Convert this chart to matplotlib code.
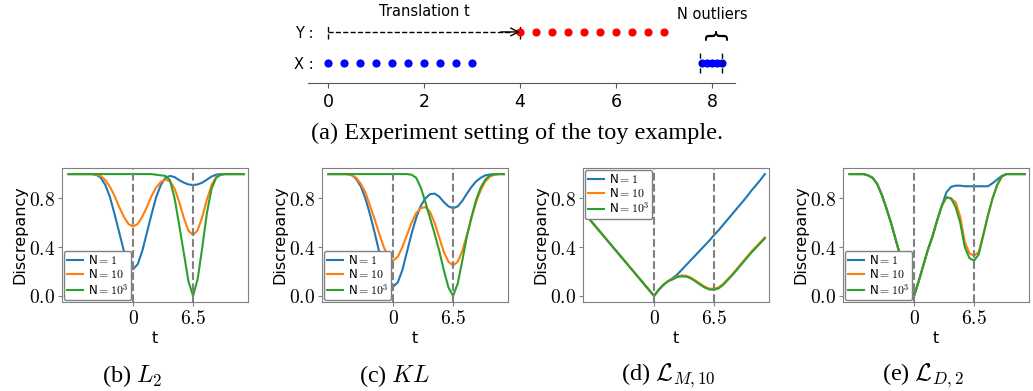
import numpy as np
import matplotlib.pyplot as plt

plt.rcParams['mathtext.fontset'] = 'cm'

# toy example points
x_points = [0, 1/3, 2/3, 1, 4/3, 5/3, 2, 7/3, 8/3, 3]
y_points = [4, 13/3, 14/3, 5, 16/3, 17/3, 6, 19/3, 20/3, 7]
outliers = [7.8, 7.9, 8.0, 8.1, 8.2]
top_ticks = [0, 2, 4, 6, 8]

# translation t (sampled every 0.5)
t = np.arange(-7, 12.01, 0.5)

l2_n1 = [1, 1, 1, 1, 1, 1, 0.995, 0.97, 0.91, 0.81, 0.67, 0.52, 0.37, 0.26, 0.22,
         0.26, 0.37, 0.52, 0.67, 0.81, 0.91, 0.97, 0.985, 0.975, 0.95, 0.93, 0.915,
         0.91, 0.915, 0.93, 0.955, 0.98, 0.995, 1, 1, 1, 1, 1, 1]
l2_n10 = [1, 1, 1, 1, 1, 1, 0.995, 0.985, 0.95, 0.895, 0.82, 0.73, 0.65, 0.59, 0.57,
          0.59, 0.65, 0.73, 0.82, 0.89, 0.935, 0.955, 0.94, 0.88, 0.77, 0.64, 0.535,
          0.50, 0.54, 0.65, 0.79, 0.91, 0.975, 0.995, 1, 1, 1, 1, 1]
l2_n1000 = [1, 1, 1, 1, 1, 1, 1, 1, 1, 1, 1, 1, 1, 1, 1, 1, 1, 1, 1,
            0.995, 0.99, 0.985, 0.95, 0.80, 0.58, 0.35, 0.12, 0.0, 0.14, 0.40,
            0.68, 0.88, 0.97, 0.995, 1, 1, 1, 1, 1]

kl_n1 = [1, 1, 1, 1, 1, 0.995, 0.96, 0.90, 0.80, 0.67, 0.52, 0.36, 0.21, 0.11, 0.075,
         0.11, 0.21, 0.36, 0.51, 0.64, 0.74, 0.80, 0.835, 0.84, 0.815, 0.77, 0.735,
         0.72, 0.735, 0.78, 0.84, 0.895, 0.94, 0.97, 0.99, 0.997, 1, 1, 1]
kl_n10 = [1, 1, 1, 1, 1, 0.99, 0.97, 0.92, 0.85, 0.74, 0.63, 0.51, 0.40, 0.32, 0.29,
          0.32, 0.40, 0.50, 0.60, 0.68, 0.72, 0.73, 0.69, 0.60, 0.48, 0.36, 0.28,
          0.25, 0.28, 0.37, 0.50, 0.64, 0.77, 0.87, 0.94, 0.98, 0.995, 1, 1]
kl_n1000 = [1, 1, 1, 1, 1, 1, 1, 1, 1, 1, 1, 1, 1, 1, 1, 1, 1, 1,
            0.995, 0.97, 0.89, 0.77, 0.64, 0.51, 0.37, 0.21, 0.07, 0.0, 0.10, 0.29,
            0.49, 0.65, 0.79, 0.89, 0.955, 0.99, 0.998, 1, 1]

lm_n1 = [0.63, 0.585, 0.54, 0.495, 0.45, 0.405, 0.36, 0.315, 0.27, 0.225, 0.18, 0.135,
         0.09, 0.045, 0.0, 0.05, 0.09, 0.12,
         0.145, 0.175, 0.215, 0.255, 0.295, 0.335, 0.375, 0.415, 0.455, 0.50, 0.54,
         0.585, 0.63, 0.675, 0.72, 0.765, 0.81, 0.86, 0.905, 0.95, 1.0]
lm_n10 = [0.63, 0.585, 0.54, 0.495, 0.45, 0.405, 0.36, 0.315, 0.27, 0.225, 0.18, 0.135,
          0.09, 0.045, 0.0, 0.05, 0.09, 0.12,
          0.14, 0.16, 0.168, 0.165, 0.15, 0.125, 0.10, 0.075, 0.06, 0.058, 0.07,
          0.10, 0.14, 0.18, 0.225, 0.27, 0.315, 0.36, 0.40, 0.44, 0.48]
lm_n1000 = [0.63, 0.585, 0.54, 0.495, 0.45, 0.405, 0.36, 0.315, 0.27, 0.225, 0.18, 0.135,
            0.09, 0.045, 0.0, 0.05, 0.09, 0.12,
            0.135, 0.155, 0.16, 0.158, 0.143, 0.118, 0.092, 0.068, 0.053, 0.05, 0.062,
            0.092, 0.132, 0.172, 0.217, 0.262, 0.307, 0.352, 0.392, 0.432, 0.472]

ld_n1 = [1, 1, 1, 1, 0.99, 0.97, 0.92, 0.83, 0.72, 0.60, 0.465, 0.33, 0.20, 0.09, 0.0,
         0.12, 0.25, 0.38, 0.49, 0.62, 0.74,
         0.85, 0.895, 0.905, 0.905, 0.90, 0.90, 0.90, 0.90, 0.90, 0.90, 0.925, 0.955,
         0.985, 1, 1, 1, 1, 1]
ld_n10 = [1, 1, 1, 1, 0.99, 0.97, 0.92, 0.83, 0.72, 0.60, 0.465, 0.33, 0.20, 0.09, 0.0,
          0.12, 0.25, 0.38, 0.49, 0.62, 0.74,
          0.81, 0.80, 0.77, 0.65, 0.44, 0.35, 0.33, 0.36, 0.50, 0.66, 0.80, 0.91,
          0.98, 1, 1, 1, 1, 1]
ld_n1000 = [1, 1, 1, 1, 0.99, 0.97, 0.92, 0.83, 0.72, 0.60, 0.465, 0.33, 0.20, 0.09, 0.0,
            0.12, 0.25, 0.38, 0.49, 0.62, 0.74,
            0.81, 0.80, 0.73, 0.60, 0.40, 0.31, 0.29, 0.34, 0.50, 0.66, 0.80, 0.91,
            0.98, 1, 1, 1, 1, 1]

labels = ['N$=1$', 'N$=10$', 'N$=10^3$']
captions = ['(b) $L_2$', '(c) $KL$', r'(d) $\mathcal{L}_{M,10}$', r'(e) $\mathcal{L}_{D,2}$']
panels = [(l2_n1, l2_n10, l2_n1000), (kl_n1, kl_n10, kl_n1000),
          (lm_n1, lm_n10, lm_n1000), (ld_n1, ld_n10, ld_n1000)]
legend_loc = ['lower left', 'lower left', 'upper left', 'lower left']

W, H = 1033, 391
fig = plt.figure(figsize=(W / 100, H / 100), dpi=100)


def px_axes(x0, y0, x1, y1):
    return fig.add_axes([x0 / W, 1 - y1 / H, (x1 - x0) / W, (y1 - y0) / H])


# ---- (a) toy example ----
ax0 = px_axes(308, 0, 735, 83)
ax0.scatter(x_points, np.zeros(len(x_points)), s=24, color='blue', zorder=3)
ax0.scatter(y_points, np.ones(len(y_points)), s=24, color='red', zorder=3)
ax0.scatter(outliers, np.zeros(len(outliers)), s=24, color='blue', zorder=3)
ax0.plot([0, 3.8], [1, 1], 'k--', lw=1)
ax0.annotate('', xy=(4.0, 1), xytext=(3.6, 1),
             arrowprops=dict(arrowstyle='->', color='k', lw=1, mutation_scale=14,
                             shrinkA=0, shrinkB=0))
for xv in [0, 4]:
    ax0.plot([xv, xv], [0.77, 1.23], 'k--', lw=1)
for xv in [7.76, 8.21]:
    ax0.plot([xv, xv], [-0.32, 0.35], 'k--', lw=1, zorder=4)
ax0.text(2, 1.645, 'Translation t', ha='center', va='center', fontsize=10.5)
ax0.text(8, 1.55, 'N outliers', ha='center', va='center', fontsize=10.5)
ax0.text(8, 0.82, '{', rotation=-90, ha='center', va='center', fontsize=18)
ax0.set_xlim(-0.417, 8.48)
ax0.set_ylim(-0.645, 2.03)
ax0.set_xticks(top_ticks)
ax0.set_yticks([0, 1], ['X :', 'Y :'])
ax0.tick_params(axis='x', labelsize=12.5, color='#555555')
ax0.tick_params(axis='y', length=0, labelsize=10.5, pad=-4)
for s in ['top', 'left', 'right']:
    ax0.spines[s].set_visible(False)
ax0.spines['bottom'].set_color('#555555')

fig.text(517 / W, 1 - 133 / H, '(a) Experiment setting of the toy example.',
         ha='center', va='center', fontsize=17.5, family='Liberation Serif')

# ---- (b)-(e) ----
lefts = [62, 322, 583, 843]
cap_x = [132, 395, 668, 923]
for i, (series, left) in enumerate(zip(panels, lefts)):
    ax = px_axes(left, 168, left + 186, 302)
    for vals, lab, c in zip(series, labels, ['tab:blue', 'tab:orange', 'tab:green']):
        ax.plot(t, vals, color=c, lw=1.5, label=lab)
    for xv in [0, 6.5]:
        ax.axvline(xv, color='gray', ls='--', lw=1.5)
    ax.set_xlim(-7.7, 12.45)
    ax.set_ylim(-0.05, 1.05)
    ax.set_xticks([0, 6.5], ['$0$', '$6.5$'])
    ax.set_yticks([0, 0.4, 0.8], ['$0.0$', '$0.4$', '$0.8$'])
    ax.tick_params(labelsize=14, color='gray', length=3, pad=2)
    for s in ax.spines.values():
        s.set_color('gray')
    ax.set_xlabel('t', fontsize=11.5, labelpad=2)
    ax.set_ylabel('Discrepancy', fontsize=11.5, labelpad=1)
    ax.legend(loc=legend_loc[i], fontsize=8.5, labelspacing=0.1, handlelength=1.4,
              handletextpad=0.4, borderpad=0.25, borderaxespad=0.15,
              edgecolor='gray', framealpha=1)
    fig.text(cap_x[i] / W, 1 - 376 / H, captions[i], ha='center', va='center',
             fontsize=17.5, family='Liberation Serif')

fig.savefig('out.png', dpi=100)
